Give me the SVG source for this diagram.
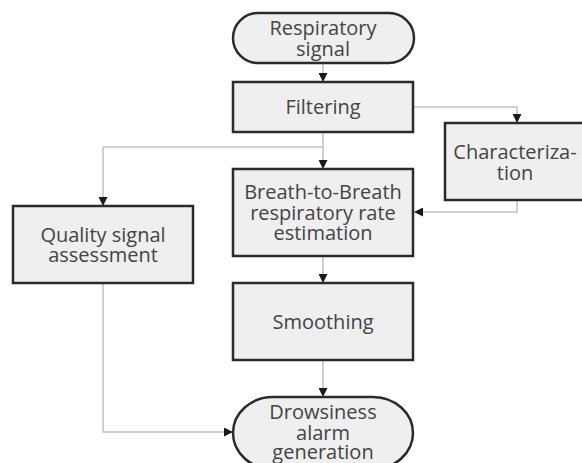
<svg xmlns="http://www.w3.org/2000/svg" width="582" height="463" viewBox="0 0 582 463">
<defs>
<style>
.box{fill:#efefef;stroke:#2b2b2b;stroke-width:2.5}
.lbl{font-family:"Open Sans","Liberation Sans",sans-serif;font-size:20px;fill:#444444;text-anchor:middle}
.con{fill:none;stroke:#c4c4c4;stroke-width:1.6}
</style>
<marker id="ah" viewBox="0 0 10 10" refX="10" refY="5" markerWidth="9" markerHeight="9" markerUnits="userSpaceOnUse" orient="auto">
<path d="M0,0 L10,5 L0,10 z" fill="#1a1a1a"/>
</marker>
</defs>
<rect width="582" height="463" fill="#ffffff"/>
<g id="connectors">
<path class="con" d="M323,63 V82" marker-end="url(#ah)"/>
<path class="con" d="M413,107 H517 V123" marker-end="url(#ah)"/>
<path class="con" d="M517,200 V212 H414" marker-end="url(#ah)"/>
<path class="con" d="M323,132 V169" marker-end="url(#ah)"/>
<path class="con" d="M323,147 H103 V206" marker-end="url(#ah)"/>
<path class="con" d="M323,256 V283" marker-end="url(#ah)"/>
<path class="con" d="M323,360 V397" marker-end="url(#ah)"/>
<path class="con" d="M103,283 V432 H233" marker-end="url(#ah)"/>
</g>
<g id="respiratory-signal">
<rect class="box" x="233" y="13" width="181" height="50" rx="25" ry="25"/>
<text class="lbl" x="323" y="35">Respiratory</text>
<text class="lbl" x="323" y="56">signal</text>
</g>
<g id="filtering">
<rect class="box" x="233" y="82" width="180" height="50"/>
<text class="lbl" x="323" y="114">Filtering</text>
</g>
<g id="characterization">
<rect class="box" x="445" y="123" width="140" height="77"/>
<text class="lbl" x="515" y="159">Characteriza-</text>
<text class="lbl" x="515" y="180">tion</text>
</g>
<g id="quality">
<rect class="box" x="13" y="206" width="180" height="77"/>
<text class="lbl" x="103" y="242">Quality signal</text>
<text class="lbl" x="103" y="262">assessment</text>
</g>
<g id="breath">
<rect class="box" x="233" y="169" width="180" height="87"/>
<text class="lbl" x="323" y="199">Breath-to-Breath</text>
<text class="lbl" x="323" y="220">respiratory rate</text>
<text class="lbl" x="323" y="240">estimation</text>
</g>
<g id="smoothing">
<rect class="box" x="233" y="283" width="180" height="77"/>
<text class="lbl" x="323" y="329">Smoothing</text>
</g>
<g id="drowsiness">
<rect class="box" x="233" y="397" width="180" height="72" rx="40" ry="36"/>
<text class="lbl" x="323" y="419">Drowsiness</text>
<text class="lbl" x="323" y="440">alarm</text>
<text class="lbl" x="323" y="459">generation</text>
</g>
</svg>
